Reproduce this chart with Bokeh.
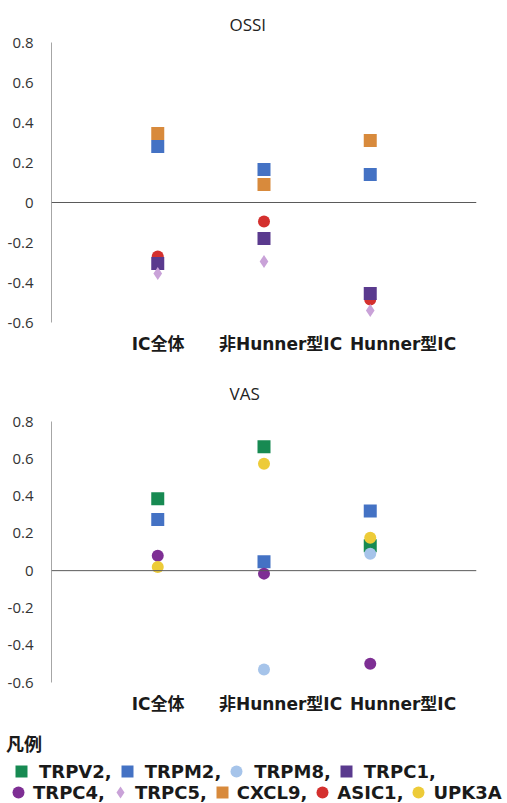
import numpy as np
from bokeh.plotting import figure
from bokeh.models import (Range1d, Span, FixedTicker, CustomJSTickFormatter,
                          Legend, LegendItem, ColumnDataSource, LinearAxis)
from bokeh.embed import file_html
from bokeh.resources import INLINE

nan = float("nan")

# ---------------- data ----------------
categories = ["IC全体", "非Hunner型IC", "Hunner型IC"]
genes = ["TRPV2", "TRPM2", "TRPM8", "TRPC1", "TRPC4", "TRPC5", "CXCL9", "ASIC1", "UPK3A"]

ossi_TRPM2 = [0.28, 0.165, 0.14]
ossi_TRPC1 = [-0.305, -0.18, -0.455]
ossi_TRPC5 = [-0.355, -0.295, -0.54]
ossi_CXCL9 = [0.345, 0.09, 0.31]
ossi_ASIC1 = [-0.27, -0.095, -0.485]

vas_TRPV2 = [0.386, 0.665, 0.134]
vas_TRPM2 = [0.274, 0.048, 0.32]
vas_TRPM8 = [nan, -0.53, 0.09]
vas_TRPC4 = [0.08, -0.016, -0.50]
vas_UPK3A = [0.02, 0.574, 0.177]

y_ticks = [-0.6, -0.4, -0.2, 0, 0.2, 0.4, 0.6, 0.8]
y_min, y_max = -0.6, 0.8

# ---------------- style ----------------
colors = {"TRPV2": "#178A52", "TRPM2": "#4472C4", "TRPM8": "#A6C4EA", "TRPC1": "#5A3A8E",
          "TRPC4": "#7E2F94", "TRPC5": "#C9A2D8", "CXCL9": "#D88A3C", "ASIC1": "#D4302E",
          "UPK3A": "#EDCB38"}
markers = {"TRPV2": "square", "TRPM2": "square", "TRPM8": "circle", "TRPC1": "square",
           "TRPC4": "circle", "TRPC5": "diamond", "CXCL9": "square", "ASIC1": "circle",
           "UPK3A": "circle"}
sizes = {"square": 13, "circle": 12, "diamond": 13}
draw_order = ["TRPV2", "TRPM2", "CXCL9", "ASIC1", "TRPC1", "TRPC5", "TRPM8", "TRPC4", "UPK3A"]

ossi = {"TRPM2": ossi_TRPM2, "TRPC1": ossi_TRPC1, "TRPC5": ossi_TRPC5,
        "CXCL9": ossi_CXCL9, "ASIC1": ossi_ASIC1}
vas = {"TRPV2": vas_TRPV2, "TRPM2": vas_TRPM2, "TRPM8": vas_TRPM8,
       "TRPC4": vas_TRPC4, "UPK3A": vas_UPK3A}

TICK_FONT = "Open Sans"
LAB_FONT = "DejaVu Sans, Noto Sans CJK JP"
cat_pos = np.arange(len(categories), dtype=float)   # category index on the x scale


def make_fig(title, series, height, b_top, b_bottom, t_standoff):
    p = figure(x_range=Range1d(-1, len(categories)), y_range=Range1d(y_min, y_max),
               width=507, height=height, output_backend="svg", toolbar_location=None,
               min_border_left=51, min_border_right=31,
               min_border_top=b_top, min_border_bottom=b_bottom)
    p.title.text = title
    p.title.text_font = TICK_FONT
    p.title.text_font_size = "17px"
    p.title.text_font_style = "normal"
    p.title.text_color = "#222222"
    p.title.align = "left"
    p.title.offset = 178
    p.title.standoff = t_standoff
    p.outline_line_color = None
    p.grid.visible = False

    p.xaxis.visible = False

    ya = p.yaxis[0]
    ya.ticker = FixedTicker(ticks=y_ticks)
    ya.formatter = CustomJSTickFormatter(code="return (Math.round(tick*10)/10).toString();")
    ya.axis_line_color = "#a6a6a6"
    ya.major_tick_line_color = None
    ya.minor_tick_line_color = None
    ya.major_tick_out = 0
    ya.major_tick_in = 0
    ya.minor_tick_out = 0
    ya.major_label_text_font = TICK_FONT
    ya.major_label_text_font_size = "15px"
    ya.major_label_text_color = "#333333"
    ya.major_label_standoff = 18

    # category label axis (labels sit slightly right of the marker columns, as in the original)
    p.extra_x_ranges = {"labels": Range1d(-0.87, 2.6)}
    la = LinearAxis(x_range_name="labels", ticker=FixedTicker(ticks=list(cat_pos)),
                    formatter=CustomJSTickFormatter(args=dict(labels=categories),
                                                    code="return labels[Math.round(tick)] || '';"))
    la.axis_line_color = None
    la.major_tick_line_color = None
    la.minor_tick_line_color = None
    la.major_tick_out = 0
    la.major_tick_in = 0
    la.minor_tick_out = 0
    la.major_label_text_font = LAB_FONT
    la.major_label_text_font_style = "bold"
    la.major_label_text_font_size = "17px"
    la.major_label_text_color = "#1a1a1a"
    la.major_label_standoff = 11
    p.add_layout(la, "below")

    p.add_layout(Span(location=0, dimension="width", line_color="#5a5a5a", line_width=1))

    rends = {}
    for g in draw_order:
        vals = np.array(series.get(g, [nan] * len(categories)), dtype=float)
        src = ColumnDataSource(dict(x=cat_pos, y=vals))
        m = markers[g]
        rends[g] = p.scatter(x="x", y="y", source=src, marker=m, size=sizes[m],
                             fill_color=colors[g], line_color=None)
    return p, rends


p1, _ = make_fig("OSSI", ossi, 362, 42, 40, 13)
p2, _ = make_fig("VAS", vas, 358, 59, 38, 33)

# ---------------- legend panel ----------------
p3 = figure(x_range=Range1d(0, 1), y_range=Range1d(0, 1), width=507, height=83,
            output_backend="svg", toolbar_location=None,
            x_axis_location=None, y_axis_location=None,
            min_border_left=0, min_border_right=0, min_border_top=0, min_border_bottom=0)
p3.grid.visible = False
p3.outline_line_color = None

# legend proxies (no visible points; they only carry each series' marker style)
legend_rends = {}
for g in genes:
    m = markers[g]
    legend_rends[g] = p3.scatter(x="x", y="y", source=ColumnDataSource(dict(x=[nan], y=[nan])),
                                 marker=m, size=sizes[m], fill_color=colors[g], line_color=None)

items = [LegendItem(label=g + ("," if g != genes[-1] else ""), renderers=[legend_rends[g]])
         for g in genes]


def style_legend(lg, spacing, standoff):
    lg.orientation = "horizontal"
    lg.glyph_width = 30
    lg.glyph_height = 30
    lg.label_height = 30
    lg.label_standoff = standoff
    lg.spacing = spacing
    lg.padding = 0
    lg.margin = 0
    lg.border_line_color = None
    lg.background_fill_alpha = 0
    lg.label_text_font = "DejaVu Sans"
    lg.label_text_font_style = "bold"
    lg.label_text_font_size = "18px"
    lg.label_text_color = "#1a1a1a"


legend1 = Legend(items=items[:4], location=(6, 17))
style_legend(legend1, -6, 3)
legend1.title = "凡例"
legend1.title_text_font = "Noto Sans CJK JP"
legend1.title_text_font_style = "bold"
legend1.title_text_font_size = "18px"
legend1.title_text_color = "#1a1a1a"
legend1.title_standoff = 0

legend2 = Legend(items=items[4:], location=(3, -4))
style_legend(legend2, -10, 0)

p3.add_layout(legend1)
p3.add_layout(legend2)

# three independent roots stacked on the page (no frame alignment between them)
open("out.html", "w").write(file_html([p1, p2, p3], INLINE))
